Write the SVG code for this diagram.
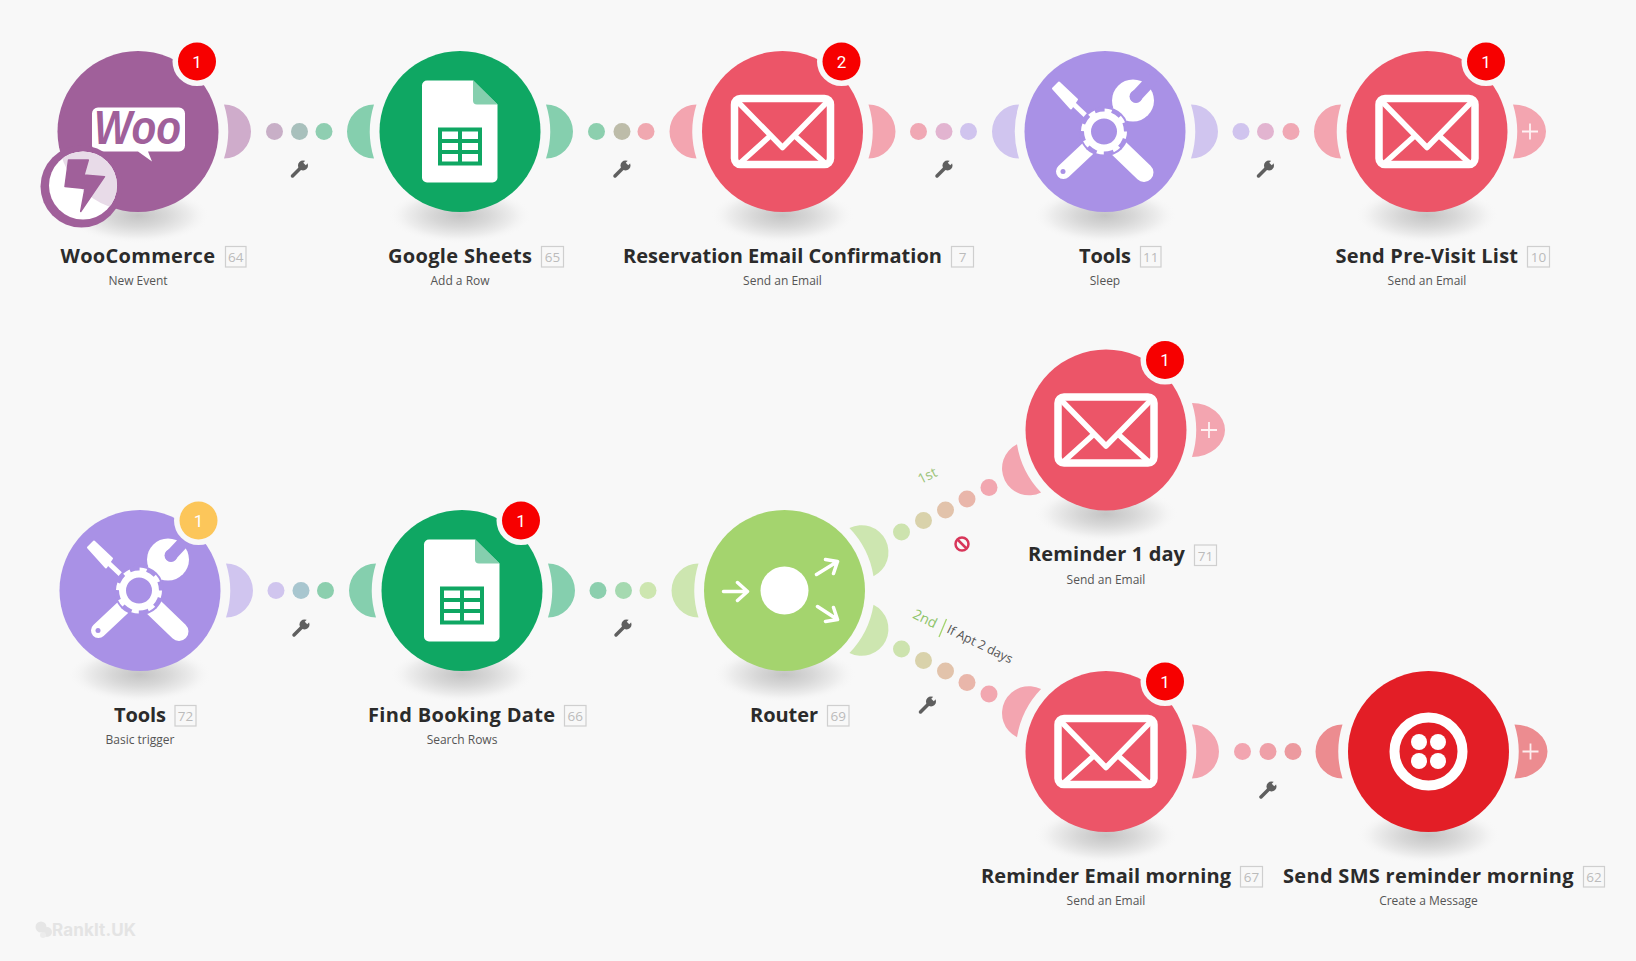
<svg xmlns="http://www.w3.org/2000/svg" width="1636" height="961" viewBox="0 0 1636 961">
<style>
.t{font-family:"Open Sans","Noto Sans","Liberation Sans",sans-serif;font-weight:700;font-size:20px;fill:#2b2b2b}
.s{font-family:"Open Sans","Noto Sans","Liberation Sans",sans-serif;font-size:12px;fill:#555;text-anchor:middle}
.i{font-family:"Open Sans","Noto Sans","Liberation Sans",sans-serif;font-size:13.500px;fill:#bbb;text-anchor:middle}
.b{fill:none;stroke:#cfcfcf;stroke-width:1.2}
.bt{font-family:"Roboto","Liberation Sans",sans-serif;font-size:17px;fill:#fff;text-anchor:middle}
.l{font-family:"Open Sans","Noto Sans","Liberation Sans",sans-serif;font-size:14px}
.p{stroke:#fff;stroke-opacity:.85;stroke-width:1.8;fill:none}
.w{fill:none;stroke:#fff;stroke-linecap:round;stroke-linejoin:round}
</style>
<defs>
<radialGradient id="sg"><stop offset="0" stop-color="#c4c4c4"/><stop offset=".4" stop-color="#d8d8d8"/><stop offset=".75" stop-color="#eeeeee"/><stop offset="1" stop-color="#f8f8f8" stop-opacity="0"/></radialGradient>
<ellipse id="sh" cx="0" cy="84" rx="72" ry="28" fill="url(#sg)"/>
<path id="hd" d="M86-27A27 27 0 0 1 86 27A90 90 0 0 0 86-27Z"/>
<path id="hdp" d="M86-27A33 27 0 0 1 86 27A90 90 0 0 0 86-27Z"/>
<g id="mail" class="w"><rect x="-48" y="-33" width="96" height="66" rx="6" stroke-width="7.500"/><path d="M-45-30L0 16L45-30" stroke-width="5.500"/><path d="M-44 33L-13 5M44 33L13 5" stroke-width="5.500"/></g>
<g id="sheet"><path d="M-38-46a5 5 0 0 1 5-5H13L37.500-27V46a5 5 0 0 1-5 5H-33a5 5 0 0 1-5-5Z" fill="#fff"/><path d="M13-51.500L37.500-27H17a4 4 0 0 1-4-4Z" fill="#85cfae"/><path d="M-20-2H20V32H-20ZM0-2V32M-20 9.500H20M-20 20.500H20" fill="none" stroke="#0fa763" stroke-width="4"/></g>
<g id="tools">
<path d="M-52-43L-46-49L-28-32L-34-23Z" fill="#fff" stroke="#fff" stroke-width="2" stroke-linejoin="round"/><path d="M-31-27L-12-9" class="w" stroke-width="5"/>
<path d="M-41.500 40L-17 17" class="w" stroke-width="15"/><circle cx="-42" cy="40" r="2.500" fill="#a991e6"/>
<path d="M13 16L39 41" stroke="#fff" stroke-width="19" stroke-linecap="round"/>
<path d="M26-29L12-14" class="w" stroke-width="19"/>
<circle cx="28" cy="-31" r="21" fill="#fff"/><path d="M31-35L46-51" stroke="#a991e6" stroke-width="12" stroke-linecap="round"/><circle cx="31" cy="-35" r="6.500" fill="#a991e6"/>
<circle cx="-1" r="25" fill="#a991e6"/>
<circle cx="-1" r="16.500" fill="none" stroke="#fff" stroke-width="7"/>
<circle cx="-1" r="21" fill="none" stroke="#fff" stroke-width="4" stroke-dasharray="7 9.490"/>
</g>
<g id="wr"><path d="M-7 7L2-2" stroke="#5f5f5f" stroke-width="3.500" stroke-linecap="round"/><circle cx="3.500" cy="-3.500" r="5" fill="#5f5f5f"/><path d="M5-5L10-10" stroke="#f8f8f8" stroke-width="3.500"/></g>
<clipPath id="wc"><circle cx="56.500" cy="-55" r="80.500"/></clipPath>
</defs>
<rect width="1636" height="961" fill="#f8f8f8"/>

<g id="connectors">
<g id="c1"><circle cx="274.500" cy="131.500" r="8.500" fill="#c8afc7"/><circle cx="299.500" cy="131.500" r="8.500" fill="#a8c0bc"/><circle cx="324" cy="131.500" r="8.500" fill="#8fceb1"/><use href="#wr" x="299.500" y="169"/></g>
<g id="c2"><circle cx="596.500" cy="131.500" r="8.500" fill="#8ccfae"/><circle cx="622" cy="131.500" r="8.500" fill="#bdbca9"/><circle cx="646" cy="131.500" r="8.500" fill="#f0a8b0"/><use href="#wr" x="622" y="169"/></g>
<g id="c3"><circle cx="918.500" cy="131.500" r="8.500" fill="#f0a8b4"/><circle cx="944" cy="131.500" r="8.500" fill="#e2b4d0"/><circle cx="968.500" cy="131.500" r="8.500" fill="#d0c4ee"/><use href="#wr" x="944" y="169"/></g>
<g id="c4"><circle cx="1241" cy="131.500" r="8.500" fill="#d0c4ee"/><circle cx="1265.500" cy="131.500" r="8.500" fill="#e2b4d0"/><circle cx="1291" cy="131.500" r="8.500" fill="#f0a8b4"/><use href="#wr" x="1265.500" y="169"/></g>
<g id="c5"><circle cx="276" cy="590.500" r="8.500" fill="#d0c5ee"/><circle cx="301" cy="590.500" r="8.500" fill="#a8c6cf"/><circle cx="325.500" cy="590.500" r="8.500" fill="#8ccfae"/><use href="#wr" x="301" y="628"/></g>
<g id="c6"><circle cx="598" cy="590.500" r="8.500" fill="#8ccfae"/><circle cx="623.500" cy="590.500" r="8.500" fill="#a5d9b0"/><circle cx="648" cy="590.500" r="8.500" fill="#cde6b0"/><use href="#wr" x="623" y="628"/></g>
<g id="c7"><circle cx="1242.500" cy="751.500" r="8.500" fill="#f2a5b0"/><circle cx="1268" cy="751.500" r="8.500" fill="#efa0a8"/><circle cx="1293" cy="751.500" r="8.500" fill="#ec9a9f"/><use href="#wr" x="1268" y="790"/></g>
<g id="c8"><circle cx="901.500" cy="532" r="8.500" fill="#cde3ae"/><circle cx="923.500" cy="520.500" r="8.500" fill="#d9d2ab"/><circle cx="945.500" cy="510" r="8.500" fill="#e2c3ab"/><circle cx="967" cy="499" r="8.500" fill="#e9b6aa"/><circle cx="989" cy="487.500" r="8.500" fill="#f2a7b0"/>
<text class="l" fill="#9cc47a" transform="translate(929.500 480) rotate(-26)" text-anchor="middle">1st</text>
<g fill="none" stroke="#d8365a" stroke-width="2.500"><circle cx="962" cy="544" r="6.500"/><path d="M957.500 539.500L966.500 548.500"/></g></g>
<g id="c9"><circle cx="901.500" cy="649" r="8.500" fill="#cde3ae"/><circle cx="923.500" cy="660.500" r="8.500" fill="#d9d2ab"/><circle cx="945.500" cy="671" r="8.500" fill="#e2c3ab"/><circle cx="967" cy="682.500" r="8.500" fill="#e9b6aa"/><circle cx="989" cy="694" r="8.500" fill="#f2a7b0"/>
<text class="l" fill="#8ec46a" transform="translate(923 623) rotate(26)" text-anchor="middle">2nd</text>
<path d="M946.500 619L939 637" stroke="#a4d46e" stroke-width="1.300" fill="none"/>
<text class="l" fill="#555" style="font-size:12.500px" transform="translate(978 648) rotate(26)" text-anchor="middle">If Apt 2 days</text>
<use href="#wr" x="927.500" y="705"/></g>
</g>

<g id="node-woocommerce" transform="translate(138 131.500)">
<use href="#sh"/><use href="#hd" fill="#cfaccb"/>
<circle r="80.500" fill="#a0609a"/>
<path d="M-46-18a6 6 0 0 1 6-6H41a6 6 0 0 1 6 6V14a6 6 0 0 1-6 6H10L14 30L0 20H-40a6 6 0 0 1-6-6Z" fill="#fff"/>
<text x="-44" y="12" font-family="Liberation Sans,sans-serif" font-weight="700" font-style="italic" font-size="48" fill="#a0609a" textLength="87" lengthAdjust="spacingAndGlyphs">Woo</text>
<g transform="translate(-56.500 55)"><circle r="41" fill="#a0609a"/><circle cx="1.500" cy="-1" r="34" fill="#fff"/><circle cx="1.500" cy="-1" r="34" fill="#e8dbe8" clip-path="url(#wc)"/>
<path d="M-13-26.500L6.800-26.500L2.500-11.500L23-9.800L-.8 25L3.500 2L-16.500 0Z" fill="#a0609a" stroke="#a0609a" stroke-width="1.500" stroke-linejoin="round"/></g>
<g transform="translate(59 -70)"><circle r="24.500" fill="#f8f8f8"/><circle r="19" fill="#f70000"/><text class="bt" y="6">1</text></g>
<text class="t" x="-77.500" y="131.800" textLength="154.500">WooCommerce</text><rect class="b" x="87.500" y="115" width="20.500" height="20.500"/><text class="i" x="97.700" y="130.500">64</text><text class="s" y="153.500">New Event</text>
</g>

<g id="node-google-sheets" transform="translate(460 131.500)">
<use href="#sh"/><use href="#hd" fill="#85cfae"/><use href="#hd" fill="#85cfae" transform="rotate(180)"/>
<circle r="80.500" fill="#0fa763"/><use href="#sheet"/>
<text class="t" x="-72" y="131.800" textLength="144">Google Sheets</text><rect class="b" x="81.500" y="115" width="22" height="20.500"/><text class="i" x="92.500" y="130.500">65</text><text class="s" y="153.500">Add a Row</text>
</g>

<g id="node-reservation" transform="translate(782.500 131.500)">
<use href="#sh"/><use href="#hd" fill="#f3a5b0"/><use href="#hd" fill="#f3a5b0" transform="rotate(180)"/>
<circle r="80.500" fill="#ec5568"/><use href="#mail"/>
<g transform="translate(59 -70)"><circle r="24.500" fill="#f8f8f8"/><circle r="19" fill="#f70000"/><text class="bt" y="6">2</text></g>
<text class="t" x="-159.500" y="131.800" textLength="319">Reservation Email Confirmation</text><rect class="b" x="169" y="115" width="22" height="20.500"/><text class="i" x="180" y="130.500">7</text><text class="s" y="153.500">Send an Email</text>
</g>

<g id="node-tools-sleep" transform="translate(1105 131.500)">
<use href="#sh"/><use href="#hd" fill="#d0c5ef"/><use href="#hd" fill="#d0c5ef" transform="rotate(180)"/>
<circle r="80.500" fill="#a991e6"/><use href="#tools"/>
<text class="t" x="-26" y="131.800" textLength="52">Tools</text><rect class="b" x="35.500" y="115" width="20.500" height="20.500"/><text class="i" x="45.700" y="130.500">11</text><text class="s" y="153.500">Sleep</text>
</g>

<g id="node-previsit" transform="translate(1427 131.500)">
<use href="#sh"/><use href="#hdp" fill="#f3a5b0"/><use href="#hd" fill="#f3a5b0" transform="rotate(180)"/>
<circle r="80.500" fill="#ec5568"/><use href="#mail"/>
<path class="p" d="M95 0H111M103-8V8"/>
<g transform="translate(59 -70)"><circle r="24.500" fill="#f8f8f8"/><circle r="19" fill="#f70000"/><text class="bt" y="6">1</text></g>
<text class="t" x="-91.500" y="131.800" textLength="182.500">Send Pre-Visit List</text><rect class="b" x="100.500" y="115" width="22" height="20.500"/><text class="i" x="111.500" y="130.500">10</text><text class="s" y="153.500">Send an Email</text>
</g>

<g id="node-tools-trigger" transform="translate(140 590.500)">
<use href="#sh"/><use href="#hd" fill="#d0c5ef"/>
<circle r="80.500" fill="#a991e6"/><use href="#tools"/>
<g transform="translate(58.500 -70)"><circle r="24.500" fill="#f8f8f8"/><circle r="19" fill="#fcc65a"/><text class="bt" y="6">1</text></g>
<text class="t" x="-26" y="131.800" textLength="52">Tools</text><rect class="b" x="35" y="115" width="21" height="20.500"/><text class="i" x="45.500" y="130.500">72</text><text class="s" y="153.500">Basic trigger</text>
</g>

<g id="node-find-booking" transform="translate(462 590.500)">
<use href="#sh"/><use href="#hd" fill="#85cfae"/><use href="#hd" fill="#85cfae" transform="rotate(180)"/>
<circle r="80.500" fill="#0fa763"/><use href="#sheet"/>
<g transform="translate(59 -70)"><circle r="24.500" fill="#f8f8f8"/><circle r="19" fill="#f70000"/><text class="bt" y="6">1</text></g>
<text class="t" x="-94" y="131.800" textLength="187">Find Booking Date</text><rect class="b" x="102.500" y="115" width="21.500" height="20.500"/><text class="i" x="113.200" y="130.500">66</text><text class="s" y="153.500">Search Rows</text>
</g>

<g id="node-router" transform="translate(784.500 590.500)">
<use href="#sh"/><use href="#hd" fill="#cde6b0" transform="rotate(180)"/><use href="#hd" fill="#cde6b0" transform="rotate(-26.500)"/><use href="#hd" fill="#cde6b0" transform="rotate(26.500)"/>
<circle r="80.500" fill="#a4d46e"/><circle r="24" fill="#fff"/>
<path class="w" stroke-width="3.500" d="M-61 1H-37M-47-8L-37 1L-47 10M32-16L53-29M41-31L53-29L49-17M33 16L53 29M49 17L53 29L41 31"/>
<text class="t" x="-34.500" y="131.800" textLength="68">Router</text><rect class="b" x="43" y="115" width="21.500" height="20.500"/><text class="i" x="53.700" y="130.500">69</text>
</g>

<g id="node-reminder-1day" transform="translate(1106 430)">
<use href="#sh"/><use href="#hdp" fill="#f3a5b0"/><use href="#hd" fill="#f3a5b0" transform="rotate(153.500)"/>
<circle r="80.500" fill="#ec5568"/><use href="#mail"/>
<path class="p" d="M95 0H111M103-8V8"/>
<g transform="translate(59 -70)"><circle r="24.500" fill="#f8f8f8"/><circle r="19" fill="#f70000"/><text class="bt" y="6">1</text></g>
<text class="t" x="-78" y="131.300" textLength="157">Reminder 1 day</text><rect class="b" x="88.500" y="115" width="22" height="20.500"/><text class="i" x="99.500" y="130.500">71</text><text class="s" y="153.500">Send an Email</text>
</g>

<g id="node-reminder-morning" transform="translate(1106 751.500)">
<use href="#sh"/><use href="#hd" fill="#f3a5b0"/><use href="#hd" fill="#f3a5b0" transform="rotate(-153.500)"/>
<circle r="80.500" fill="#ec5568"/><use href="#mail"/>
<g transform="translate(59 -70)"><circle r="24.500" fill="#f8f8f8"/><circle r="19" fill="#f70000"/><text class="bt" y="6">1</text></g>
<text class="t" x="-125" y="131.300" textLength="250">Reminder Email morning</text><rect class="b" x="134.500" y="115" width="22" height="20.500"/><text class="i" x="145.500" y="130.500">67</text><text class="s" y="153.500">Send an Email</text>
</g>

<g id="node-send-sms" transform="translate(1428.500 751.500)">
<use href="#sh"/><use href="#hdp" fill="#ec8c90"/><use href="#hd" fill="#ec8c90" transform="rotate(180)"/>
<circle r="80.500" fill="#e31e26"/>
<circle r="34" fill="none" stroke="#fff" stroke-width="10"/>
<g fill="#fff"><circle cx="-9.500" cy="-9.500" r="8"/><circle cx="9.500" cy="-9.500" r="8"/><circle cx="-9.500" cy="9.500" r="8"/><circle cx="9.500" cy="9.500" r="8"/></g>
<path class="p" d="M94 0H110M102-8V8"/>
<text class="t" x="-145.500" y="131.300" textLength="290.500">Send SMS reminder morning</text><rect class="b" x="155" y="115" width="21" height="20.500"/><text class="i" x="165.500" y="130.500">62</text><text class="s" y="153.500">Create a Message</text>
</g>

<g id="watermark"><circle cx="41" cy="927" r="5.500" fill="#e6e6e6"/><circle cx="47" cy="932" r="5" fill="#e6e6e6"/><circle cx="43" cy="935" r="3" fill="#ececec"/><text x="52" y="936" font-family="Inter,Liberation Sans,sans-serif" font-weight="700" font-size="17" fill="#e4e4e4" textLength="84">RankIt.UK</text></g>
</svg>
